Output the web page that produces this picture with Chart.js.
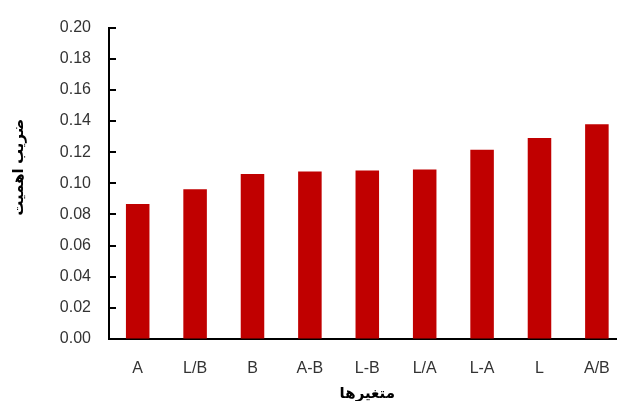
<!DOCTYPE html>
<html>
<head>
<meta charset="utf-8">
<script src="https://cdn.jsdelivr.net/npm/chart.js@4"></script>
<style>
  html, body { margin: 0; padding: 0; background: #fff; overflow: hidden; }
  #wrap { width: 630px; height: 401px; }
</style>
</head>
<body>
<div id="wrap"><canvas id="myChart"></canvas></div>
<script>
const categories = ['A', 'L/B', 'B', 'A-B', 'L-B', 'L/A', 'L-A', 'L', 'A/B'];
const importance = [0.0867, 0.0962, 0.1059, 0.1076, 0.1082, 0.1089, 0.1215, 0.1291, 0.138];
const yTicks = [0, 0.02, 0.04, 0.06, 0.08, 0.10, 0.12, 0.14, 0.16, 0.18, 0.20];
const yTitle = 'ضریب اهمیت';
const xTitle = 'متغیرها';

const font = "'Liberation Sans', 'DejaVu Sans', sans-serif";

// short tick marks on the inside of the y axis + the y title (sits a bit above centre in the original)
const extras = {
    id: 'extras',
    afterDraw(chart) {
        const ctx = chart.ctx;
        const y = chart.scales.y;
        const x0 = chart.chartArea.left;
        ctx.save();
        ctx.strokeStyle = '#000';
        ctx.lineWidth = 2;
        yTicks.forEach(v => {
            const py = Math.round(y.getPixelForValue(v));
            ctx.beginPath();
            ctx.moveTo(x0, py);
            ctx.lineTo(x0 + 7, py);
            ctx.stroke();
        });
        ctx.translate(19, y.getPixelForValue(0.1) - 16);
        ctx.rotate(-Math.PI / 2);
        ctx.fillStyle = '#000';
        ctx.font = 'bold 15px ' + font;
        ctx.textAlign = 'center';
        ctx.textBaseline = 'middle';
        ctx.fillText(yTitle, 0, 0);
        ctx.restore();
    }
};

const ctx = document.getElementById('myChart').getContext('2d');
new Chart(ctx, {
    type: 'bar',
    data: {
        labels: categories,
        datasets: [{
            data: importance,
            backgroundColor: '#C00000',
            barPercentage: 0.41,
            categoryPercentage: 1.0
        }]
    },
    options: {
        responsive: true,
        maintainAspectRatio: false,
        animation: false,
        layout: { padding: { top: 23, left: 0, right: 4, bottom: 0 } },
        plugins: {
            legend: { display: false },
            tooltip: { enabled: false }
        },
        scales: {
            y: {
                min: 0,
                max: 0.2,
                afterBuildTicks: (scale) => { scale.ticks = yTicks.map(v => ({ value: v })); },
                afterFit: (scale) => { scale.width = 109; },
                grid: { drawOnChartArea: false, drawTicks: false },
                border: { color: '#000', width: 2 },
                ticks: {
                    padding: 18,
                    color: '#333',
                    font: { family: font, size: 16 },
                    callback: (v) => Number(v).toFixed(2)
                }
            },
            x: {
                afterFit: (scale) => { scale.height = 62; },
                grid: { drawOnChartArea: false, drawTicks: false },
                border: { color: '#000', width: 2 },
                ticks: {
                    padding: 20,
                    color: '#333',
                    font: { family: font, size: 16 }
                },
                title: {
                    display: true,
                    text: xTitle,
                    color: '#000',
                    font: { family: font, size: 15, weight: 'bold' },
                    padding: { top: 0, bottom: -2 }
                }
            }
        }
    },
    plugins: [extras]
});
</script>
</body>
</html>
